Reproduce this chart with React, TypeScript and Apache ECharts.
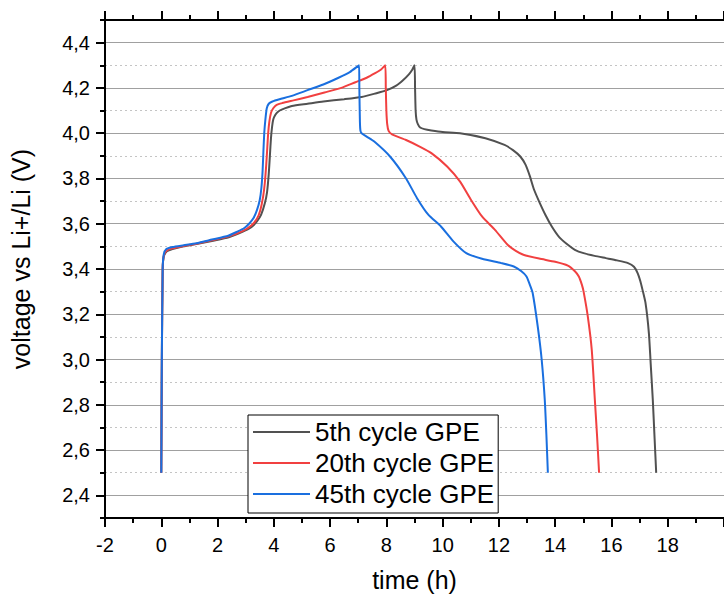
import React, { useEffect, useRef } from 'react';
import * as echarts from 'echarts';

const FONT = '"Liberation Sans", Arial, Helvetica, sans-serif';

const seriesNames = ['5th cycle GPE', '20th cycle GPE', '45th cycle GPE'];
const seriesColors = ['#515151', '#F14040', '#1A6FDF'];

const yTickValues = [2.4, 2.6, 2.8, 3.0, 3.2, 3.4, 3.6, 3.8, 4.0, 4.2, 4.4];

// 5th cycle
const time5 = [0, 0.02, 0.05, 0.09, 0.2, 0.4, 0.8, 1.25, 1.8, 2.4, 2.9, 3.2, 3.4, 3.55, 3.68, 3.76, 3.82, 3.86, 3.9, 3.94, 3.98, 4.05, 4.15, 4.3, 4.64, 5.2, 5.76, 6.5, 7.12, 7.6, 8.02, 8.35, 8.6, 8.8, 8.92, 9.0, 9.02, 9.04, 9.07, 9.12, 9.2, 9.35, 9.6, 10.0, 10.62, 11.52, 12.2, 12.5, 12.76, 12.95, 13.1, 13.25, 13.43, 13.65, 13.88, 14.15, 14.45, 14.7, 15.01, 15.4, 15.8, 16.2, 16.59, 16.8, 16.93, 17.03, 17.1, 17.21, 17.33, 17.4, 17.47, 17.53, 17.59];
const volt5 = [2.5, 3.0, 3.4, 3.455, 3.478, 3.488, 3.5, 3.51, 3.524, 3.54, 3.565, 3.585, 3.61, 3.64, 3.69, 3.74, 3.82, 3.9, 3.98, 4.03, 4.06, 4.08, 4.095, 4.105, 4.12, 4.13, 4.14, 4.15, 4.16, 4.175, 4.19, 4.21, 4.235, 4.26, 4.28, 4.3, 4.2, 4.1, 4.06, 4.04, 4.025, 4.018, 4.012, 4.005, 4.0, 3.978, 3.948, 3.925, 3.897, 3.86, 3.81, 3.75, 3.698, 3.64, 3.588, 3.54, 3.507, 3.485, 3.47, 3.458, 3.448, 3.438, 3.426, 3.41, 3.382, 3.345, 3.31, 3.25, 3.117, 2.97, 2.82, 2.66, 2.5];

// 20th cycle
const time20 = [0, 0.02, 0.05, 0.09, 0.2, 0.4, 0.8, 1.25, 1.8, 2.4, 2.9, 3.2, 3.4, 3.52, 3.62, 3.68, 3.73, 3.77, 3.8, 3.84, 3.9, 3.98, 4.1, 4.3, 4.7, 5.2, 5.8, 6.4, 6.9, 7.3, 7.6, 7.8, 7.96, 7.98, 8.0, 8.03, 8.08, 8.2, 8.7, 9.2, 9.6, 10.16, 10.62, 11.01, 11.4, 11.86, 12.31, 12.6, 12.87, 13.43, 14.0, 14.45, 14.7, 14.84, 14.95, 15.01, 15.16, 15.3, 15.41, 15.49, 15.56];
const volt20 = [2.5, 3.0, 3.4, 3.46, 3.482, 3.491, 3.502, 3.512, 3.527, 3.544, 3.568, 3.592, 3.622, 3.66, 3.72, 3.78, 3.86, 3.94, 4.0, 4.05, 4.09, 4.11, 4.125, 4.133, 4.145, 4.16, 4.18, 4.2, 4.225, 4.245, 4.265, 4.28, 4.3, 4.2, 4.1, 4.04, 4.01, 3.995, 3.97, 3.94, 3.912, 3.853, 3.786, 3.705, 3.632, 3.573, 3.507, 3.48, 3.463, 3.446, 3.432, 3.415, 3.39, 3.367, 3.33, 3.3, 3.19, 3.043, 2.822, 2.66, 2.5];

// 45th cycle
const time45 = [0, 0.02, 0.05, 0.09, 0.18, 0.4, 0.8, 1.25, 1.8, 2.38, 2.7, 2.94, 3.12, 3.28, 3.4, 3.5, 3.56, 3.6, 3.63, 3.66, 3.7, 3.75, 3.82, 3.95, 4.2, 4.64, 5.2, 5.76, 6.3, 6.7, 7.03, 7.04, 7.06, 7.08, 7.12, 7.3, 7.57, 8.13, 8.7, 9.09, 9.49, 9.94, 10.39, 10.84, 11.4, 12.08, 12.53, 12.8, 12.98, 13.1, 13.2, 13.38, 13.52, 13.63, 13.69, 13.74];
const volt45 = [2.5, 3.0, 3.4, 3.465, 3.488, 3.497, 3.505, 3.514, 3.53, 3.547, 3.565, 3.58, 3.6, 3.625, 3.66, 3.705, 3.76, 3.83, 3.92, 4.0, 4.06, 4.11, 4.13, 4.14, 4.15, 4.165, 4.19, 4.215, 4.245, 4.27, 4.3, 4.2, 4.05, 4.01, 4.0, 3.985, 3.963, 3.897, 3.8, 3.713, 3.64, 3.588, 3.521, 3.47, 3.445, 3.426, 3.411, 3.39, 3.367, 3.33, 3.294, 3.146, 3.0, 2.822, 2.66, 2.5];

const seriesTimes = [time5, time20, time45];
const seriesVolts = [volt5, volt20, volt45];

const axisBlack = { color: '#000', width: 2 };

export default function App() {
  const ref = useRef<HTMLDivElement>(null);
  useEffect(() => {
    if (!ref.current) return;
    const chart = echarts.init(ref.current, undefined, { renderer: 'svg' });
    const xCommon = {
      type: 'value',
      min: -2,
      max: 20,
      interval: 2,
      axisLine: { show: true, onZero: false, lineStyle: axisBlack },
      axisTick: { show: true, inside: false, length: 9, lineStyle: axisBlack },
      minorTick: { show: true, splitNumber: 2, length: 5, lineStyle: axisBlack },
      splitLine: { show: false },
      minorSplitLine: { show: false },
    };
    const option: any = {
      animation: false,
      backgroundColor: '#fff',
      grid: { left: 104, top: 20, right: -29.5, bottom: 81, containLabel: false },
      xAxis: [
        {
          ...xCommon,
          position: 'bottom',
          axisLabel: {
            show: true,
            fontSize: 20,
            color: '#000',
            fontFamily: FONT,
            margin: 17,
            showMaxLabel: false,
          },
          name: 'time (h)',
          nameLocation: 'middle',
          nameGap: 49,
          nameTextStyle: { fontSize: 25, color: '#000', fontFamily: FONT },
        },
        {
          ...xCommon,
          position: 'top',
          axisLabel: { show: false },
        },
      ],
      yAxis: [
        {
          type: 'value',
          min: 2.3,
          max: 4.5,
          interval: 0.1,
          position: 'left',
          axisLine: { show: true, onZero: false, lineStyle: axisBlack },
          axisTick: { show: true, inside: false, length: 5, lineStyle: axisBlack },
          axisLabel: { show: false },
          splitLine: {
            show: true,
            showMinLine: false,
            showMaxLine: false,
            lineStyle: { color: '#c4c4c4', width: 1, type: [2, 3] },
          },
        },
        {
          type: 'value',
          min: 2.3,
          max: 4.5,
          splitNumber: 11,
          position: 'left',
          axisLine: { show: false, onZero: false },
          axisTick: { show: true, inside: false, length: 9, lineStyle: axisBlack, customValues: yTickValues },
          axisLabel: {
            show: true,
            fontSize: 20,
            color: '#000',
            fontFamily: FONT,
            margin: 15,
            customValues: yTickValues,
            formatter: (v: number) => v.toFixed(1).replace('.', ','),
          },
          splitLine: {
            show: true,
            showMinLine: true,
            showMaxLine: true,
            lineStyle: { color: '#a0a0a0', width: 1 },
          },
          name: 'voltage vs Li+/Li (V)',
          nameLocation: 'middle',
          nameRotate: 90,
          nameGap: 72,
          nameTextStyle: { fontSize: 25, color: '#000', fontFamily: FONT, padding: [0, 0, 0, 20] },
        },
      ],
      legend: {
        orient: 'vertical',
        left: 248,
        top: 415,
        icon: 'rect',
        itemWidth: 57,
        itemHeight: 2,
        itemGap: 5,
        padding: [4, 4, 6, 5],
        borderColor: '#000',
        borderWidth: 1,
        borderRadius: 0,
        backgroundColor: '#fff',
        textStyle: { fontSize: 26, color: '#000', fontFamily: FONT },
        data: seriesNames,
      },
      series: seriesNames.map((name, i) => ({
        type: 'line',
        name,
        xAxisIndex: 0,
        yAxisIndex: 0,
        data: seriesTimes[i].map((t, j) => [t, seriesVolts[i][j]]),
        symbol: 'none',
        showSymbol: false,
        smooth: 0.2,
        lineStyle: { color: seriesColors[i], width: 2 },
        itemStyle: { color: seriesColors[i] },
        z: 2 + i,
      })),
    };
    chart.setOption(option);
    return () => chart.dispose();
  }, []);
  return (
    <div
      ref={ref}
      style={{ position: 'fixed', left: 0, top: 0, width: 724, height: 599, background: '#fff' }}
    />
  );
}
